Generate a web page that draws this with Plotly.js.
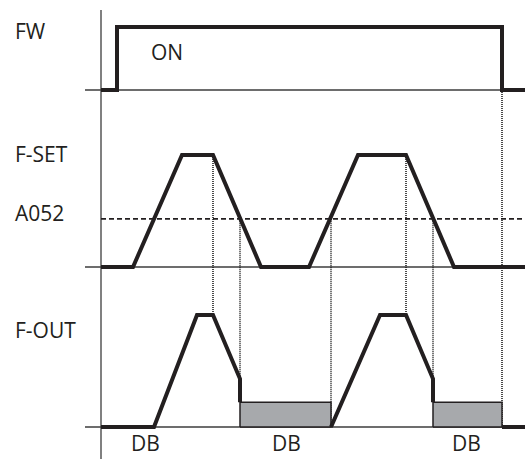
<!DOCTYPE html>
<html>
<head>
<meta charset="utf-8">
<script src="https://cdn.plot.ly/plotly-3.0.1.min.js"></script>
<style>html,body{margin:0;padding:0;background:#fff;}#chart{width:525px;height:459px;}</style>
</head>
<body>
<div id="chart"></div>
<script>
// ---- Data (time units, signal levels) ----
// FW command: 0 = off, 1 = on
const fwTime  = [0, 16, 16, 401, 401, 424];
const fwLevel = [0, 0, 1, 1, 0, 0];
// F-SET frequency setting (% of max)
const fsetTime  = [0, 32, 81, 112, 160, 208, 257, 305, 353, 424];
const fsetLevel = [0, 0, 100, 100, 0, 0, 100, 100, 0, 0];
// A052 DC braking start frequency (% of max)
const a052Level = 43;
// DC braking level (% of max)
const dbLevel = 22;
// F-OUT output frequency (% of max), in segments
const fout1Time  = [0, 53, 96, 112, 139, 139];
const fout1Level = [0, 0, 100, 100, 43, 22];
const fout2Time  = [230, 279, 305, 332, 332];
const fout2Level = [0, 100, 100, 43, 22];
const fout3Time  = [401, 424];
const fout3Level = [0, 0];
// DC braking intervals
const dbStart = [139, 332];
const dbEnd   = [230, 401];
const dbLabelTime = [44, 185, 365];
// Projection (dotted) lines: time, from-signal level, to F-OUT level
const projTime     = [112, 139, 230, 305, 332, 401];
const projFrom     = ['fset', 'fset', 'fset', 'fset', 'fset', 'fw'];
const projFromLvl  = [100, 43, 43, 100, 43, 0];
const projToLvl    = [100, 43, 0, 100, 43, 0];
// Signal labels
const signalNames = ['FW', 'F-SET', 'A052', 'F-OUT'];
const onLabel = 'ON';
const dbLabel = 'DB';

// ---- Lane layout (vertical position of each signal) ----
const lanes = {
  fw:   {base: 369, scale: 63},
  fset: {base: 192, scale: 1.12},
  fout: {base: 32,  scale: 1.12}
};
const Y = (lane, v) => lanes[lane].base + v * lanes[lane].scale;
const map = (lane, arr) => arr.map(v => Y(lane, v));

const INK = '#231f20';
const THICK = 4;
const traces = [];

// Baselines
['fw', 'fset', 'fout'].forEach(l => {
  traces.push({x: [-16, 424], y: [Y(l, 0), Y(l, 0)], mode: 'lines',
    line: {color: '#3c3c3c', width: 1.3}});
});
// Vertical time axis
traces.push({x: [0, 0], y: [0, 449], mode: 'lines', line: {color: '#3c3c3c', width: 1.3}});
// A052 dashed level
traces.push({x: [0, 424], y: [Y('fset', a052Level), Y('fset', a052Level)], mode: 'lines',
  line: {color: INK, width: 1.8, dash: '5px,3px'}});
// Dotted projections
projTime.forEach((t, i) => {
  traces.push({x: [t, t], y: [Y(projFrom[i], projFromLvl[i]), Y('fout', projToLvl[i])], mode: 'lines',
    line: {color: '#111', width: 1.5, dash: '1px,1px'}});
});
// DC braking boxes
dbStart.forEach((s, i) => {
  const e = dbEnd[i];
  traces.push({x: [s, e, e, s, s], y: map('fout', [0, 0, dbLevel, dbLevel, 0]), mode: 'lines',
    fill: 'toself', fillcolor: '#a7a9ac', line: {color: INK, width: 1.5}});
});
// Signals
traces.push({x: fwTime, y: map('fw', fwLevel), mode: 'lines', line: {color: INK, width: THICK}});
traces.push({x: fsetTime, y: map('fset', fsetLevel), mode: 'lines', line: {color: INK, width: THICK}});
[[fout1Time, fout1Level], [fout2Time, fout2Level], [fout3Time, fout3Level]].forEach(([t, v]) => {
  traces.push({x: t, y: map('fout', v), mode: 'lines', line: {color: INK, width: THICK}});
});

const font = {family: 'Open Sans, sans-serif', size: 21, color: INK};
const labelX = -88;
const annotations = [
  {x: labelX, y: 428, text: signalNames[0]},
  {x: labelX, y: 305, text: signalNames[1]},
  {x: labelX, y: 246, text: signalNames[2]},
  {x: labelX, y: 129, text: signalNames[3]},
  {x: 48, y: 407, text: onLabel}
].map(a => Object.assign(a, {xanchor: 'left', yanchor: 'middle', showarrow: false, font: font,
  xref: 'x', yref: 'y'}));
dbLabelTime.forEach(t => annotations.push({x: t, y: 1, text: dbLabel, xanchor: 'center',
  yanchor: 'bottom', borderpad: 0, showarrow: false, font: font, xref: 'x', yref: 'y'}));

const layout = {
  width: 525, height: 459,
  margin: {l: 0, r: 0, t: 0, b: 0},
  paper_bgcolor: '#fff', plot_bgcolor: '#fff',
  showlegend: false,
  xaxis: {range: [-101, 424], visible: false, fixedrange: true},
  yaxis: {range: [0, 459], visible: false, fixedrange: true},
  annotations: annotations,
  hovermode: false
};
traces.forEach(t => { t.hoverinfo = 'skip'; t.cliponaxis = false; });
Plotly.newPlot('chart', traces, layout, {staticPlot: true, displayModeBar: false});
</script>
</body>
</html>
